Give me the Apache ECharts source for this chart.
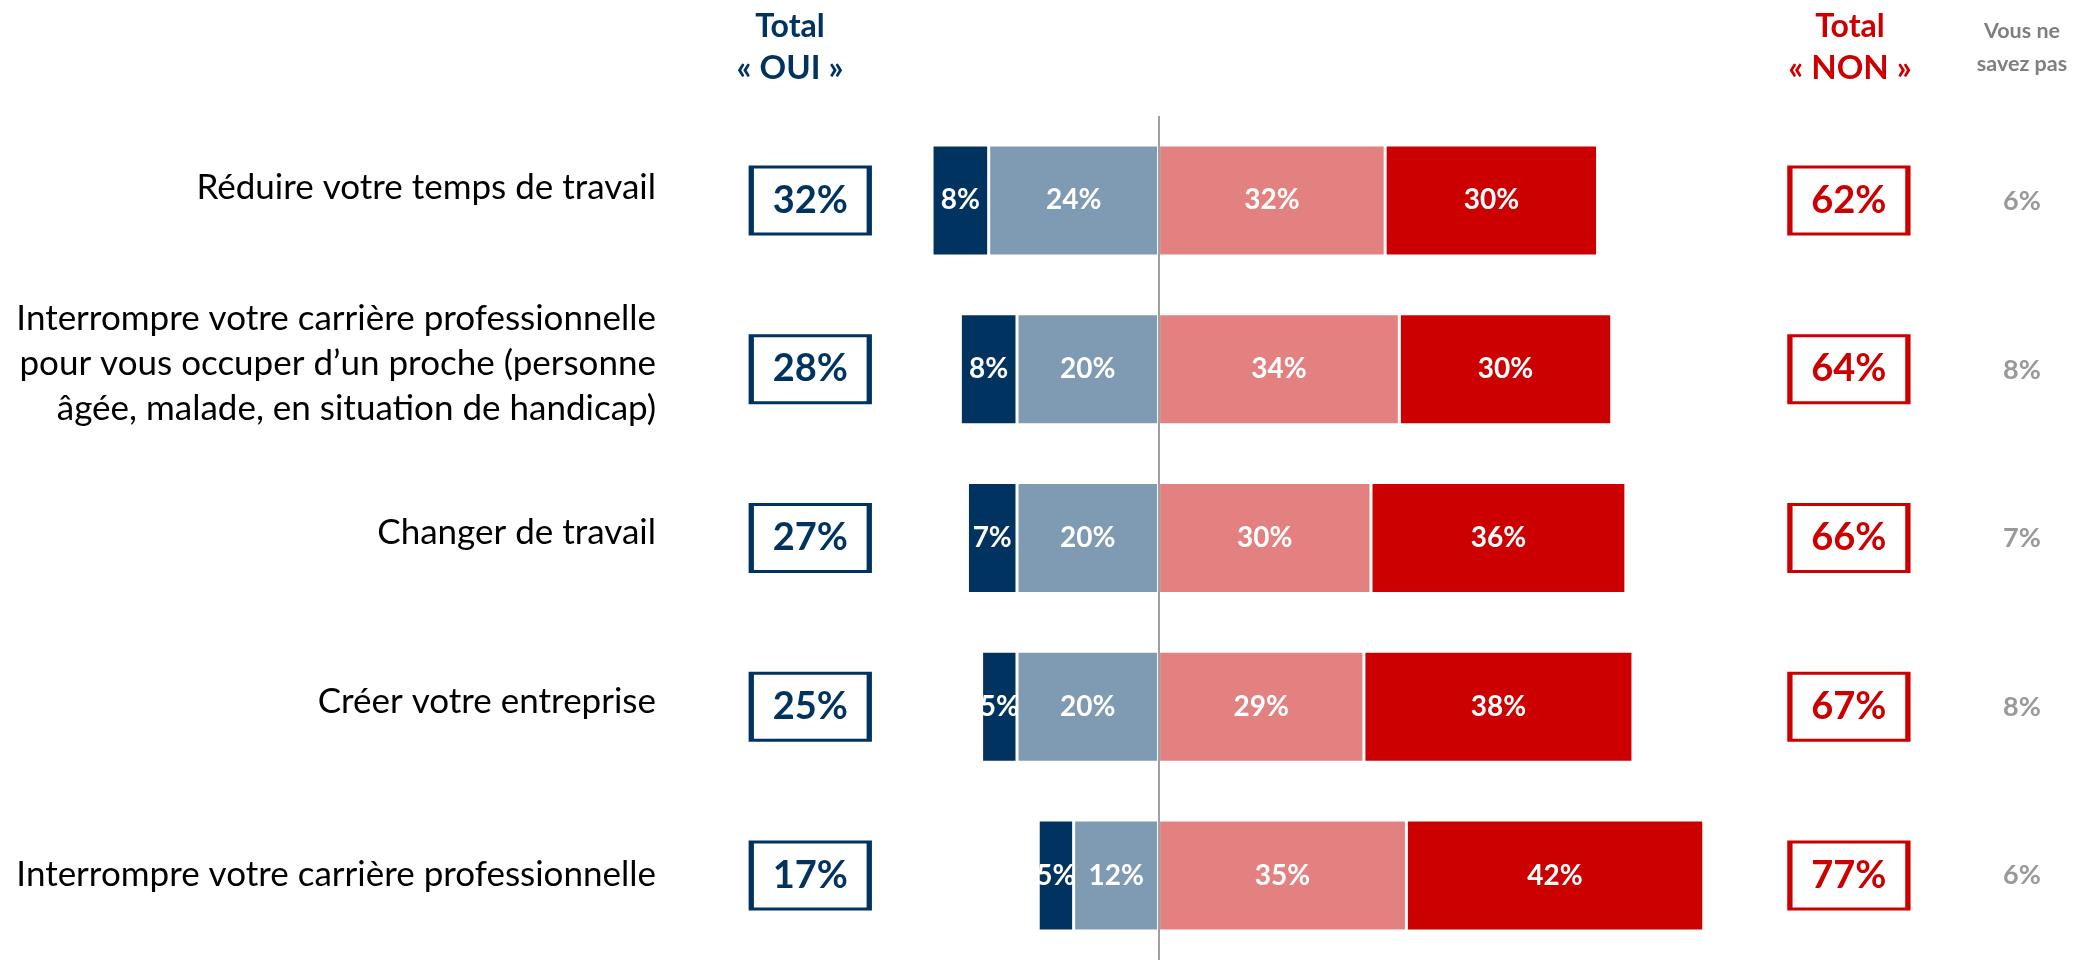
<!DOCTYPE html>
<html><head><meta charset="utf-8">
<script src="https://cdn.jsdelivr.net/npm/echarts@6/dist/echarts.min.js"></script>
<style>html,body{margin:0;padding:0;background:#fff}#c{width:2079px;height:960px}</style>
</head><body><div id="c"></div>
<script>
// ---- data ----
const categories = [
  "Réduire votre temps de travail",
  "Interrompre votre carrière professionnelle\npour vous occuper d’un proche (personne\nâgée, malade, en situation de handicap)",
  "Changer de travail",
  "Créer votre entreprise",
  "Interrompre votre carrière professionnelle"
];
const ouiFort   = [8, 8, 7, 5, 5];
const ouiPlutot = [24, 20, 20, 20, 12];
const nonPlutot = [32, 34, 30, 29, 35];
const nonFort   = [30, 30, 36, 38, 42];
const totalOui  = [32, 28, 27, 25, 17];
const totalNon  = [62, 64, 66, 67, 77];
const nsp       = [6, 8, 7, 8, 6];

// ---- layout / style constants ----
const FONT = "Lato, 'Liberation Sans', sans-serif";
const NAVY = "#00335F", LIGHTBLUE = "#7F9AB3", PINK = "#E38080", RED = "#CC0000", GREY = "#7F7F7F";
const OUI_BOX_X = -49.2, NON_BOX_X = 97.5;
const LABEL_SIZE = 35;

const chart = echarts.init(document.getElementById('c'), null, {renderer: 'canvas'});

const barLabel = {
  show: true, position: 'inside', color: '#fff', fontFamily: FONT, fontWeight: 'bold', fontSize: 28,
  formatter: p => Math.abs(p.value) + '%'
};
function barSeries(name, data, color, extra) {
  return Object.assign({
    name, type: 'bar', stack: 'all', barWidth: 111, data,
    itemStyle: {color, borderColor: '#fff', borderWidth: 1.5},
    label: barLabel
  }, extra || {});
}
function boxSeries(name, totals, xPos, color) {
  return {
    name, type: 'scatter', xAxisIndex: 0, yAxisIndex: 0,
    data: categories.map(c => [xPos, c]),
    symbol: 'rect', symbolSize: [118, 67],
    itemStyle: {color: '#fff', borderColor: color, borderWidth: 4, opacity: 1},
    label: {show: true, position: 'inside', color, fontFamily: FONT, fontWeight: 'bold', fontSize: 38,
      formatter: p => totals[p.dataIndex] + '%'},
    z: 5
  };
}

const option = {
  animation: false,
  backgroundColor: '#fff',
  grid: [
    {left: 663, width: 1420, top: 116, height: 851, containLabel: false},
    {left: 1980, width: 84, top: 117, height: 868, containLabel: false}
  ],
  xAxis: [
    {type: 'value', gridIndex: 0, min: -70, max: 130, show: false},
    {type: 'value', gridIndex: 1, min: 0, max: 1, show: false}
  ],
  yAxis: [
    {type: 'category', gridIndex: 0, data: categories, inverse: true,
     axisLine: {show: false}, axisTick: {show: false},
     axisLabel: {margin: 7, color: '#000', fontFamily: FONT, fontSize: LABEL_SIZE, lineHeight: 45, align: 'right',
       padding: [0, 0, 10, 0],
       formatter: (v, i) => i === 0 ? '{up|' + v + '}' : (i === categories.length - 1 ? '{dn|' + v + '}' : v),
       rich: {
         up: {fontFamily: FONT, fontSize: LABEL_SIZE, color: '#000', padding: [0, 0, 16, 0]},
         dn: {fontFamily: FONT, fontSize: LABEL_SIZE, color: '#000', padding: [8, 0, 0, 0]}
       }}},
    {type: 'category', gridIndex: 1, data: categories, inverse: true, show: false}
  ],
  series: [
    barSeries('Oui, plutôt', ouiPlutot.map(v => -v), LIGHTBLUE, {
      markLine: {silent: true, symbol: ['none', 'none'], label: {show: false},
        lineStyle: {color: '#808080', width: 1.5, type: 'solid'}, data: [{xAxis: 0}]}
    }),
    barSeries('Oui, tout à fait', ouiFort.map(v => -v), NAVY),
    barSeries('Non, plutôt pas', nonPlutot, PINK),
    barSeries('Non, pas du tout', nonFort, RED),
    boxSeries('Total « OUI »', totalOui, OUI_BOX_X, NAVY),
    boxSeries('Total « NON »', totalNon, NON_BOX_X, RED),
    {
      name: 'Vous ne savez pas', type: 'scatter', xAxisIndex: 1, yAxisIndex: 1,
      data: categories.map(c => [0.5, c]), symbolSize: 2,
      itemStyle: {color: 'rgba(0,0,0,0)'},
      label: {show: true, position: 'inside', color: GREY, fontFamily: FONT, fontWeight: 'bold', fontSize: 27,
        formatter: p => nsp[p.dataIndex] + '%'}
    }
  ],
  graphic: [
    {type: 'text', x: 790, y: 27, style: {text: 'Total', align: 'center', verticalAlign: 'middle', fill: NAVY, font: 'bold 32px ' + FONT}},
    {type: 'text', x: 790, y: 68, style: {text: '« OUI »', align: 'center', verticalAlign: 'middle', fill: NAVY, font: 'bold 33px ' + FONT}},
    {type: 'text', x: 1850, y: 27, style: {text: 'Total', align: 'center', verticalAlign: 'middle', fill: RED, font: 'bold 32px ' + FONT}},
    {type: 'text', x: 1850, y: 68, style: {text: '« NON »', align: 'center', verticalAlign: 'middle', fill: RED, font: 'bold 33px ' + FONT}},
    {type: 'text', x: 2022, y: 31, style: {text: 'Vous ne', align: 'center', verticalAlign: 'middle', fill: GREY, font: 'bold 21.5px ' + FONT}},
    {type: 'text', x: 2022, y: 64, style: {text: 'savez pas', align: 'center', verticalAlign: 'middle', fill: GREY, font: 'bold 21.5px ' + FONT}}
  ]
};
chart.setOption(option);
</script>
</body></html>
